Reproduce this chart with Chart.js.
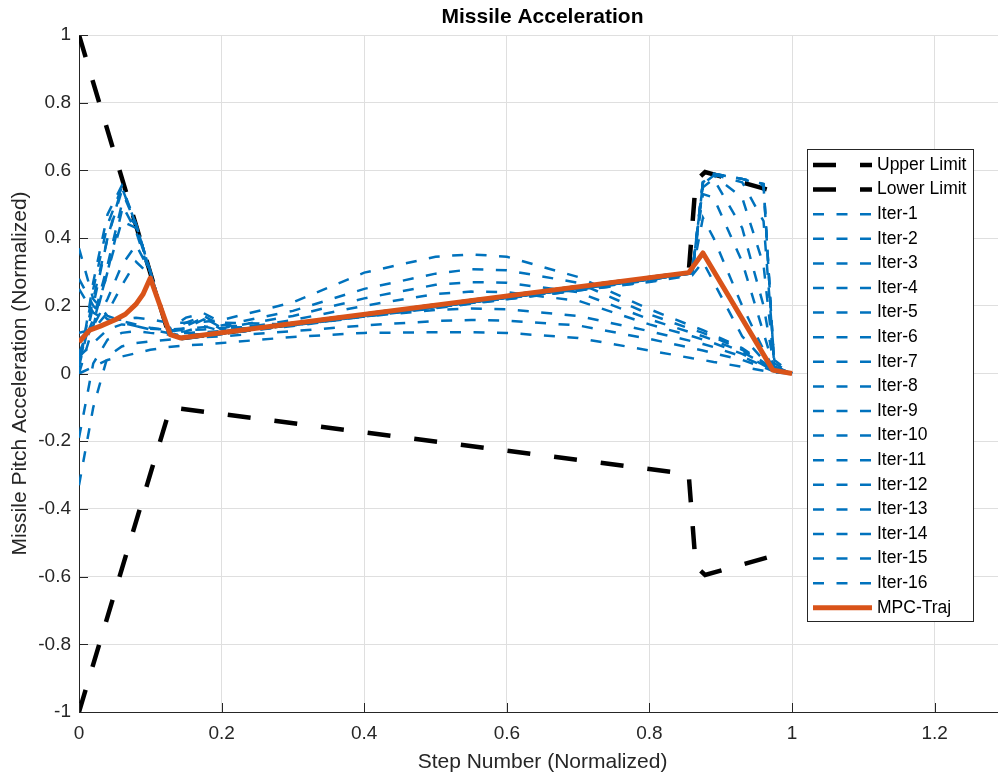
<!DOCTYPE html>
<html>
<head>
<meta charset="utf-8">
<title>Missile Acceleration</title>
<script src="https://cdn.jsdelivr.net/npm/chart.js@4.4.1/dist/chart.umd.min.js"></script>
<style>
  html, body { margin: 0; padding: 0; background: #fff; overflow: hidden; }
  #wrap { width: 1007px; height: 775px; }
</style>
</head>
<body>
<div id="wrap"><canvas id="accelChart" width="1007" height="775"></canvas></div>
<script>
// step positions shared by all iterations
const stepX = [0, 0.02, 0.04, 0.06, 0.08, 0.1, 0.125, 0.15, 0.175, 0.2, 0.3, 0.4, 0.5, 0.55, 0.6, 0.7, 0.8, 0.86, 0.875, 0.89, 0.93, 0.96, 0.975, 1];

const iter1  = [0.00, 0.02, 0.04, 0.05, 0.06, 0.07, 0.078, 0.083, 0.086, 0.09, 0.108, 0.12, 0.122, 0.122, 0.12, 0.105, 0.068, 0.045, 0.04, 0.034, 0.02, 0.008, 0.003, 0];
const iter2  = [-0.33, -0.1, 0.05, 0.08, 0.09, 0.095, 0.1, 0.104, 0.107, 0.11, 0.125, 0.142, 0.155, 0.158, 0.156, 0.142, 0.102, 0.075, 0.068, 0.06, 0.04, 0.018, 0.006, 0];
const iter3  = [-0.19, 0.03, 0.1, 0.12, 0.125, 0.12, 0.115, 0.115, 0.116, 0.118, 0.14, 0.168, 0.188, 0.192, 0.19, 0.17, 0.125, 0.095, 0.087, 0.078, 0.05, 0.022, 0.008, 0];
const iter4  = [0.05, 0.09, 0.13, 0.145, 0.14, 0.13, 0.12, 0.12, 0.122, 0.125, 0.158, 0.2, 0.235, 0.242, 0.24, 0.215, 0.145, 0.11, 0.1, 0.09, 0.058, 0.025, 0.008, 0];
const iter5  = [0.37, 0.22, 0.17, 0.155, 0.145, 0.135, 0.128, 0.128, 0.13, 0.134, 0.17, 0.222, 0.262, 0.27, 0.268, 0.24, 0.16, 0.12, 0.11, 0.098, 0.064, 0.028, 0.009, 0];
const iter6  = [0.28, 0.2, 0.16, 0.15, 0.14, 0.132, 0.13, 0.133, 0.137, 0.142, 0.185, 0.25, 0.295, 0.308, 0.305, 0.268, 0.175, 0.13, 0.12, 0.107, 0.07, 0.03, 0.01, 0];
const iter7  = [0.25, 0.18, 0.155, 0.16, 0.165, 0.16, 0.15, 0.15, 0.153, 0.158, 0.21, 0.298, 0.345, 0.352, 0.345, 0.285, 0.19, 0.14, 0.128, 0.114, 0.075, 0.033, 0.01, 0];
const iter8  = [0.06, 0.16, 0.32, 0.5, 0.42, 0.29, 0.13, 0.165, 0.178, 0.15, 0.145, 0.17, 0.195, 0.207, 0.22, 0.245, 0.27, 0.29, 0.33, 0.27, 0.11, 0.04, 0.01, 0];
const iter9  = [0.02, 0.2, 0.4, 0.55, 0.44, 0.3, 0.125, 0.15, 0.17, 0.14, 0.143, 0.168, 0.193, 0.206, 0.219, 0.245, 0.272, 0.295, 0.46, 0.4, 0.2, 0.07, 0.01, 0];
const iter10 = [0.0, 0.14, 0.3, 0.45, 0.43, 0.3, 0.12, 0.14, 0.165, 0.135, 0.142, 0.168, 0.195, 0.208, 0.222, 0.248, 0.275, 0.298, 0.53, 0.52, 0.33, 0.12, 0.015, 0];
const iter11 = [0.1, 0.14, 0.22, 0.32, 0.38, 0.3, 0.12, 0.135, 0.16, 0.13, 0.142, 0.17, 0.197, 0.21, 0.224, 0.25, 0.277, 0.298, 0.55, 0.575, 0.43, 0.2, 0.02, 0];
const iter12 = [0.12, 0.13, 0.18, 0.26, 0.33, 0.29, 0.12, 0.125, 0.14, 0.125, 0.143, 0.17, 0.197, 0.211, 0.224, 0.251, 0.278, 0.299, 0.56, 0.585, 0.52, 0.32, 0.03, 0];
const iter13 = [0.05, 0.15, 0.3, 0.48, 0.44, 0.3, 0.118, 0.112, 0.115, 0.12, 0.144, 0.171, 0.198, 0.211, 0.225, 0.252, 0.279, 0.299, 0.565, 0.587, 0.565, 0.45, 0.04, 0];
const iter14 = [0.03, 0.22, 0.4, 0.54, 0.44, 0.3, 0.12, 0.104, 0.11, 0.117, 0.143, 0.17, 0.197, 0.21, 0.224, 0.251, 0.278, 0.296, 0.565, 0.59, 0.575, 0.555, 0.02, 0];
const iter15 = [0.01, 0.27, 0.47, 0.555, 0.44, 0.3, 0.12, 0.104, 0.11, 0.117, 0.143, 0.17, 0.197, 0.21, 0.224, 0.251, 0.278, 0.296, 0.565, 0.59, 0.575, 0.56, 0.02, 0];
const iter16 = [0.02, 0.25, 0.44, 0.55, 0.44, 0.3, 0.12, 0.104, 0.11, 0.117, 0.143, 0.17, 0.197, 0.21, 0.224, 0.251, 0.278, 0.296, 0.565, 0.59, 0.575, 0.56, 0.02, 0];
const iterations = [iter1, iter2, iter3, iter4, iter5, iter6, iter7, iter8, iter9, iter10, iter11, iter12, iter13, iter14, iter15, iter16];

const upperX = [0, 0.128, 0.855, 0.865, 0.878, 0.98];
const upperY = [1, 0.1, 0.297, 0.57, 0.595, 0.535];
const lowerX = [0, 0.128, 0.855, 0.865, 0.878, 0.98];
const lowerY = [-1, -0.1, -0.297, -0.57, -0.595, -0.535];

const mpcX = [0, 0.015, 0.03, 0.05, 0.065, 0.08, 0.09, 0.1, 0.128, 0.142, 0.855, 0.875, 0.973, 1];
const mpcY = [0.093, 0.128, 0.14, 0.158, 0.175, 0.205, 0.235, 0.282, 0.115, 0.105, 0.298, 0.356, 0.01, 0];

const xTickVals = [0, 0.2, 0.4, 0.6, 0.8, 1, 1.2];
const yTickVals = [-1, -0.8, -0.6, -0.4, -0.2, 0, 0.2, 0.4, 0.6, 0.8, 1];

const fontFamily = '"Liberation Sans", Arial, Helvetica, sans-serif';
const axisGray = '#262626';
const matBlue = '#0072BD';
const matOrange = '#D95319';

function pairUp(xs, ys) {
    return xs.map((x, i) => ({x: x, y: ys[i]}));
}

const datasets = [
    {label: 'Upper Limit', data: pairUp(upperX, upperY), borderColor: '#000', borderWidth: 4.5, borderDash: [23, 24], order: 2},
    {label: 'Lower Limit', data: pairUp(lowerX, lowerY), borderColor: '#000', borderWidth: 4.5, borderDash: [23, 24], order: 2}
];
iterations.forEach((ys, i) => {
    datasets.push({
        label: 'Iter-' + (i + 1),
        data: pairUp(stepX, ys),
        borderColor: matBlue,
        borderWidth: 2.5,
        borderDash: [11, 12.5],
        // the last iterations sit on top of each other, which reads as a solid line
        borderDashOffset: i >= 13 ? (i - 13) * 7.8 : 0,
        order: 1
    });
});
datasets.push({label: 'MPC-Traj', data: pairUp(mpcX, mpcY), borderColor: matOrange, borderWidth: 5, borderJoinStyle: 'round', order: 0});

// inward ticks, title on the axes centre, and the boxed legend
const matlabDecor = {
    id: 'matlabDecor',
    afterDraw(chart) {
        const {ctx, chartArea, scales} = chart;
        ctx.save();
        ctx.strokeStyle = axisGray;
        ctx.lineWidth = 1;
        ctx.beginPath();
        xTickVals.forEach(v => {
            const px = Math.round(scales.x.getPixelForValue(v)) + 0.5;
            ctx.moveTo(px, chartArea.bottom);
            ctx.lineTo(px, chartArea.bottom - 9);
        });
        yTickVals.forEach(v => {
            const py = Math.round(scales.y.getPixelForValue(v)) + 0.5;
            ctx.moveTo(chartArea.left, py);
            ctx.lineTo(chartArea.left + 9, py);
        });
        ctx.stroke();

        ctx.fillStyle = '#000';
        ctx.font = 'bold 21px ' + fontFamily;
        ctx.textAlign = 'center';
        ctx.textBaseline = 'middle';
        ctx.fillText('Missile Acceleration', (chartArea.left + chartArea.right) / 2, 17);

        const box = {left: 807, top: 149, width: 166, height: 472};
        ctx.fillStyle = '#fff';
        ctx.fillRect(box.left, box.top, box.width, box.height);
        ctx.strokeStyle = axisGray;
        ctx.lineWidth = 1;
        ctx.strokeRect(box.left + 0.5, box.top + 0.5, box.width, box.height);

        ctx.font = '17.5px ' + fontFamily;
        ctx.textAlign = 'left';
        chart.data.datasets.forEach((ds, i) => {
            const y = 165 + i * 24.6;
            ctx.save();
            ctx.beginPath();
            ctx.rect(813, y - 5, 59, 10);
            ctx.clip();
            ctx.setLineDash(ds.borderDash || []);
            ctx.lineDashOffset = 0;
            ctx.lineCap = 'butt';
            ctx.lineWidth = ds.borderWidth;
            ctx.strokeStyle = ds.borderColor;
            ctx.beginPath();
            ctx.moveTo(813, y);
            ctx.lineTo(872, y);
            ctx.stroke();
            ctx.restore();
            ctx.fillStyle = '#000';
            ctx.fillText(ds.label, 877, y);
        });
        ctx.restore();
    }
};

const ctx = document.getElementById('accelChart').getContext('2d');
const accelChart = new Chart(ctx, {
    type: 'line',
    data: {datasets: datasets},
    options: {
        responsive: false,
        animation: false,
        layout: {padding: {top: 35, right: 1, left: 0, bottom: 0}},
        elements: {point: {radius: 0}, line: {tension: 0, fill: false}},
        plugins: {
            legend: {display: false},
            tooltip: {enabled: false},
            title: {display: false}
        },
        scales: {
            x: {
                type: 'linear',
                min: 0,
                max: 1.3,
                afterFit(scale) { scale.height = 63; },
                afterBuildTicks(scale) { scale.ticks = xTickVals.map(v => ({value: v})); },
                grid: {color: '#dfdfdf', drawTicks: false},
                border: {color: axisGray, width: 1},
                ticks: {
                    autoSkip: false,
                    maxRotation: 0,
                    padding: 10,
                    color: axisGray,
                    font: {family: fontFamily, size: 19},
                    callback: v => String(v)
                },
                title: {
                    display: true,
                    text: 'Step Number (Normalized)',
                    color: axisGray,
                    font: {family: fontFamily, size: 21},
                    padding: {top: 0, bottom: 0}
                }
            },
            y: {
                type: 'linear',
                min: -1,
                max: 1,
                afterFit(scale) { scale.width = 79; },
                afterBuildTicks(scale) { scale.ticks = yTickVals.map(v => ({value: v})); },
                grid: {color: '#dfdfdf', drawTicks: false},
                border: {color: axisGray, width: 1},
                ticks: {
                    autoSkip: false,
                    padding: 8,
                    color: axisGray,
                    font: {family: fontFamily, size: 19},
                    callback: v => String(v)
                },
                title: {
                    display: true,
                    text: 'Missile Pitch Acceleration (Normalized)',
                    color: axisGray,
                    font: {family: fontFamily, size: 21},
                    padding: {top: 8, bottom: 0}
                }
            }
        }
    },
    plugins: [matlabDecor]
});
</script>
</body>
</html>
